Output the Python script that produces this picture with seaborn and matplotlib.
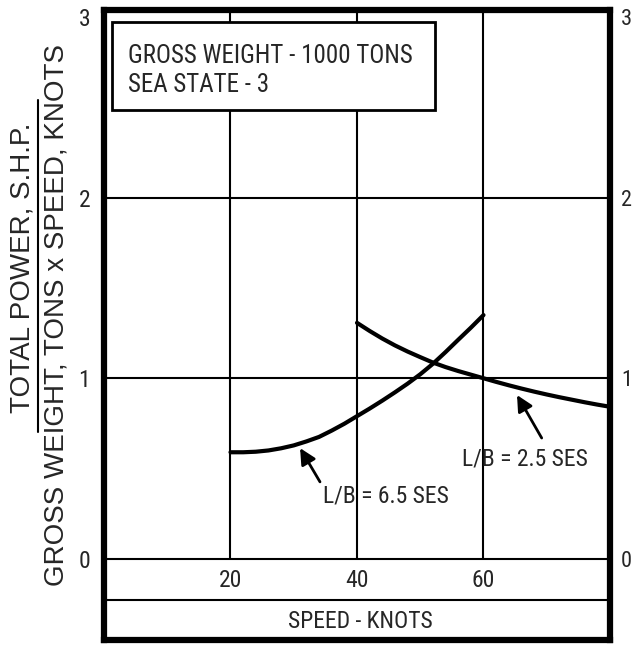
import matplotlib
matplotlib.use("Agg")
import matplotlib.pyplot as plt
from matplotlib import font_manager
from matplotlib.patches import Rectangle
from matplotlib.lines import Line2D
import seaborn as sns

# ---- data ----
speed_65 = [20, 22, 24, 26, 28, 30, 32, 34, 36, 38, 40, 42, 44, 46, 48, 50, 52, 54, 56, 58, 60]
power_65 = [0.59, 0.59, 0.593, 0.60, 0.612, 0.628, 0.65, 0.675, 0.71, 0.748, 0.79, 0.832,
            0.876, 0.922, 0.97, 1.022, 1.08, 1.145, 1.213, 1.28, 1.35]

speed_25 = [40, 42, 44, 46, 48, 50, 52, 54, 56, 58, 60, 62, 64, 66, 68, 70, 72, 74, 76, 78, 80]
power_25 = [1.307, 1.262, 1.22, 1.182, 1.148, 1.117, 1.087, 1.062, 1.04, 1.02, 1.0, 0.98,
            0.961, 0.943, 0.926, 0.91, 0.895, 0.881, 0.867, 0.854, 0.842]

x_ticks = [20, 40, 60]
y_ticks = [0, 1, 2, 3]

box_lines = ["GROSS WEIGHT - 1000 TONS", "SEA STATE - 3"]
label_65 = "L/B = 6.5 SES"
label_25 = "L/B = 2.5 SES"
x_title = "SPEED - KNOTS"
y_num = "TOTAL POWER, S.H.P."
y_den = "GROSS WEIGHT, TONS x SPEED, KNOTS"


def pick_narrow():
    # look for a condensed face; fall back to a plain one with smaller type
    candidates = [("Liberation Sans Narrow", "normal"), ("Noto Sans Condensed", "normal"),
                  ("Noto Sans", "condensed"), ("Roboto Condensed", "normal"),
                  ("Open Sans Condensed", "normal")]
    for fam, stretch in candidates:
        try:
            path = font_manager.findfont(font_manager.FontProperties(family=fam, stretch=stretch),
                                         fallback_to_default=False)
        except ValueError:
            continue
        low = path.lower()
        if "narrow" in low or "condensed" in low:
            return fam, stretch, 1.0
    return "Liberation Sans", "normal", 0.84


sns.set_style("white")
NARROW, STRETCH, K = pick_narrow()
plt.rcParams["font.family"] = [NARROW, "DejaVu Sans"]
plt.rcParams["font.stretch"] = STRETCH

fig = plt.figure(figsize=(6.38, 6.46), dpi=100)
ax = fig.add_axes([0.163, 0.0093, 0.7931, 0.9752])
ax.set_xlim(0, 80)
ax.set_ylim(-0.45, 3.04)

# grid
for yv in [0, 1, 2]:
    ax.axhline(yv, color="black", lw=1.5, zorder=1)
ax.axhline(-0.229, color="black", lw=1.5, zorder=1)
ax.vlines(x_ticks, 0, 3.04, color="black", lw=1.5, zorder=1)

# curves
sns.lineplot(x=speed_65, y=power_65, color="black", lw=3, ax=ax, zorder=2)
sns.lineplot(x=speed_25, y=power_25, color="black", lw=3, ax=ax, zorder=2)

# info box
ax.add_patch(Rectangle((1.26, 2.486), 51.0, 0.487, facecolor="white",
                       edgecolor="black", lw=2, zorder=3))
ax.text(3.8, 2.746, box_lines[0], fontsize=18 * K, va="baseline", zorder=4)
ax.text(3.8, 2.586, box_lines[1], fontsize=18 * K, va="baseline", zorder=4)

# curve labels with arrows
arrow = dict(arrowstyle="-|>", color="black", lw=2, mutation_scale=24, shrinkA=0, shrinkB=0)
ax.annotate("", xy=(31.0, 0.613), xytext=(34.15, 0.426), arrowprops=arrow)
ax.annotate("", xy=(65.3, 0.907), xytext=(69.2, 0.669), arrowprops=arrow)
ax.text(44.6, 0.347, label_65, fontsize=17 * K, ha="center", va="center")
ax.text(66.5, 0.552, label_25, fontsize=17 * K, ha="center", va="center")

# x labels inside the frame
for xv in x_ticks:
    ax.text(xv, -0.123, str(xv), fontsize=17, ha="center", va="center")
ax.text(40.6, -0.348, x_title, fontsize=17 * K, ha="center", va="center")
ax.set_xticks([])

# y ticks left and right
ax.set_yticks(y_ticks)
ax.set_yticklabels([str(v) for v in y_ticks], fontsize=17)
ax.tick_params(axis="y", length=0, pad=10)
ax.set_ylabel("")
ax.set_xlabel("")
ax_r = ax.twinx()
ax_r.set_ylim(ax.get_ylim())
ax_r.set_yticks(y_ticks)
ax_r.set_yticklabels([str(v) for v in y_ticks], fontsize=16)
ax_r.tick_params(axis="y", length=0, pad=8)
for s in ax_r.spines.values():
    s.set_visible(False)

for s in ax.spines.values():
    s.set_visible(True)
    s.set_color("black")
    s.set_linewidth(4.5)

# fraction style y label
fig.text(0.0345, 0.585, y_num, rotation=90, ha="center", va="center",
         fontsize=20, family=["Liberation Sans", "DejaVu Sans"], stretch="normal")
fig.text(0.0878, 0.512, y_den, rotation=90, ha="center", va="center",
         fontsize=20, family=["Liberation Sans", "DejaVu Sans"], stretch="normal")
fig.add_artist(Line2D([0.0596, 0.0596], [0.331, 0.845], transform=fig.transFigure,
                      color="black", lw=1.5))

fig.savefig("out.png", dpi=100)
